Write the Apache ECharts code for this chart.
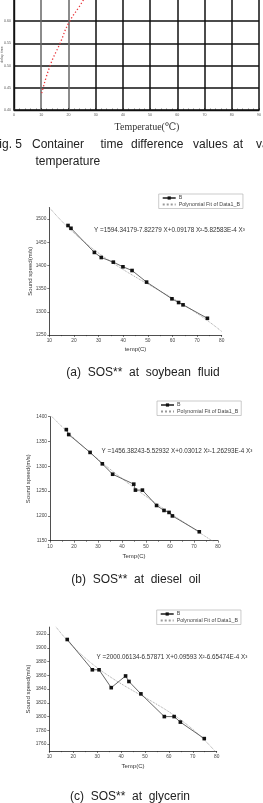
<!DOCTYPE html>
<html><head><meta charset="utf-8">
<script src="https://cdn.jsdelivr.net/npm/echarts@6/dist/echarts.min.js"></script>
<style>html,body{margin:0;padding:0;background:#fff;}#c{width:263px;height:803px;}</style>
</head><body><div id="c"></div>
<script>
// Fig.5 (top, partially visible): container time difference vs temperature
const topTemp = [10.2, 13.2, 16.9, 20.2, 25.4, 26.5];
const topDelay = [0.438, 0.499, 0.550, 0.597, 0.647, 0.665];
const topXTicks = [0,10,20,30,40,50,60,70,80,90];
const topYTicks = [0.40,0.45,0.50,0.55,0.60];

// (a) soybean fluid
const aTemp = [17.6,18.8,28.3,31.1,36.0,39.9,43.6,49.5,59.8,62.5,64.3,74.2];
const aSpeed = [1486,1480,1428,1417,1407,1397,1389,1364,1328,1320,1315,1286];
const aFitTemp = [10,15,20,25,30,35,40,45,50,55,60,65,70,75,80];
const aFit = [1524.7,1495.7,1469.9,1447.0,1426.5,1408.0,1391.0,1375.1,1359.8,1344.8,1329.5,1313.6,1296.6,1278.1,1257.6];
const aYTicks = [1250,1300,1350,1400,1450,1500];

// (b) diesel oil
const bTemp = [16.8,17.8,26.7,31.8,36.1,44.9,45.6,48.5,54.4,57.5,59.6,61.0,72.2];
const bSpeed = [1374,1364,1328,1305,1284,1264,1252,1252,1221,1211,1207,1200,1168];
const bFitTemp = [10,15,20,25,30,35,40,45,50,55,60,65,70,75,80];
const bFit = [1404.0,1379.8,1356.8,1335.0,1314.2,1294.3,1275.3,1257.0,1239.4,1222.4,1205.8,1189.6,1173.6,1157.8,1142.1];
const bYTicks = [1150,1200,1250,1300,1350,1400];

// (c) glycerin
const cTemp = [17.5,28.0,30.8,35.9,41.9,43.3,48.3,58.1,62.2,64.8,74.8];
const cSpeed = [1912,1868,1868,1842,1859,1851,1833,1800,1800,1792,1768];
const cFitTemp = [10,15,20,25,30,35,40,45,50,55,60,65,70,75,80];
const cFit = [1943.2,1920.7,1901.5,1885.2,1871.1,1858.8,1847.8,1837.6,1827.8,1817.7,1807.0,1795.0,1781.4,1765.5,1747.0];
const cYTicks = [1760,1780,1800,1820,1840,1860,1880,1900,1920];

const zip = (a,b) => a.map((v,i)=>[v,b[i]]);
const chart = echarts.init(document.getElementById('c'), null, {renderer:'canvas'});

const lblFont = 'Arial, "Liberation Sans", sans-serif';
function sosX(grid, name, nameGap){
  return {type:'value', gridIndex:grid, min:10, max:80, interval:10,
    name:name, nameLocation:'middle', nameGap:nameGap, nameMoveOverlap:false,
    nameTextStyle:{fontSize:6, color:'#333', fontFamily:lblFont},
    axisLine:{show:true, lineStyle:{color:'#222', width:0.8}},
    axisTick:{show:true, length:2, inside:false, lineStyle:{color:'#222', width:0.6}},
    minorTick:{show:true, splitNumber:2, length:1.2, lineStyle:{color:'#222', width:0.5}},
    axisLabel:{fontSize:4.8, color:'#444', margin:3, fontFamily:lblFont, formatter:v=>String(v)},
    splitLine:{show:false}};
}
function sosY(grid, min, max, ticks, name, nameGap){
  return {type:'value', gridIndex:grid, min:min, max:max,
    name:name, nameLocation:'middle', nameGap:nameGap, nameRotate:90, nameMoveOverlap:false,
    nameTextStyle:{fontSize:6, color:'#333', fontFamily:lblFont},
    axisLine:{show:true, lineStyle:{color:'#222', width:0.8}},
    axisTick:{show:true, length:2, customValues:ticks, lineStyle:{color:'#222', width:0.6}},
    axisLabel:{fontSize:4.8, color:'#444', margin:3, customValues:ticks, fontFamily:lblFont, formatter:v=>String(v)},
    splitLine:{show:false}};
}
function dataSeries(idx, t, v){
  return {name:'B', type:'line', xAxisIndex:idx, yAxisIndex:idx, data:zip(t,v),
    symbol:'rect', symbolSize:3.6, showSymbol:true,
    itemStyle:{color:'#111'}, lineStyle:{color:'#555', width:0.9}, z:3, animation:false};
}
function fitSeries(idx, t, v){
  return {name:'Polynomial Fit of Data1_B', type:'line', xAxisIndex:idx, yAxisIndex:idx, data:zip(t,v),
    symbol:'none', smooth:true, clip:true, itemStyle:{color:'#9a9a9a'},
    lineStyle:{color:'#9a9a9a', width:0.9, type:'dotted'}, z:2, animation:false};
}
function legendAt(left, top){
  return {left:left, top:top, orient:'vertical', itemGap:1.5, itemWidth:13, itemHeight:4,
    padding:[1.5,3,1.5,3], borderColor:'#aaa', borderWidth:0.6, backgroundColor:'#fff',
    selectedMode:false,
    data:[{name:'B'}, {name:'Polynomial Fit of Data1_B', itemStyle:{opacity:0}}],
    textStyle:{fontSize:5.3, color:'#444', fontFamily:lblFont, padding:[0,0,0,-2]}};
}
function txt(x,y,s,size,family,align,color){
  return {type:'text', x:x, y:y, silent:true,
    style:{text:s, fontSize:size, fontFamily:family||lblFont, fill:color||'#222',
      textAlign:align||'left', textVerticalAlign:'middle'}};
}

const option = {
  backgroundColor:'#fff',
  animation:false,
  grid:[
    {left:14, right:4, top:-1, bottom:693, containLabel:false, outerBoundsMode:'none'},
    {left:49.3, right:41.3, top:207.4, bottom:468, outerBoundsMode:'none'},
    {left:50, right:45, top:416.7, bottom:262.3, outerBoundsMode:'none'},
    {left:49.3, right:46.3, top:627.1, bottom:52, outerBoundsMode:'none'}
  ],
  xAxis:[
    {type:'value', gridIndex:0, min:0, max:90, interval:10,
      axisLine:{show:true, lineStyle:{color:'#111', width:1.4}},
      axisTick:{show:true, inside:true, length:2, lineStyle:{color:'#222', width:0.8}},
      minorTick:{show:true, splitNumber:5, length:1.5, lineStyle:{color:'#222', width:0.6}},
      axisLabel:{fontSize:3.6, color:'#555', margin:3, customValues:topXTicks, fontFamily:lblFont},
      splitLine:{show:true, lineStyle:{color:['#111','#666','#666','#111','#111','#111','#111','#111','#111','#111'], width:1.5}}},
    sosX(1,'temp(C)',11),
    sosX(2,'Temp(C)',13),
    sosX(3,'Temp(C)',12.5)
  ],
  yAxis:[
    {type:'value', gridIndex:0, min:0.40, max:0.65, interval:0.05,
      name:'delay time', nameLocation:'middle', nameGap:10, nameRotate:90, nameMoveOverlap:false,
      nameTextStyle:{fontSize:3.6, color:'#555', fontFamily:lblFont},
      axisLine:{show:true, lineStyle:{color:'#111', width:1.4}},
      axisTick:{show:false},
      axisLabel:{fontSize:3.6, color:'#555', margin:3, customValues:topYTicks, fontFamily:lblFont,
        formatter:v=>v.toFixed(2)},
      splitLine:{show:true, lineStyle:{color:'#111', width:1.5}}},
    sosY(1,1250,1525,aYTicks,'Sound speed(m/s)',16),
    sosY(2,1150,1400,bYTicks,'Sound speed(m/s)',19),
    sosY(3,1750,1930,cYTicks,'Sound speed(m/s)',18)
  ],
  legend:[legendAt(158.7,194), legendAt(157,401), legendAt(156.7,610)],
  series:[
    {name:'delay', type:'line', xAxisIndex:0, yAxisIndex:0, data:zip(topTemp,topDelay),
      symbol:'none', smooth:true, clip:true,
      lineStyle:{color:'#e8343a', width:1.3, type:[1.3,2.2]}, z:4, animation:false},
    fitSeries(1,aFitTemp,aFit), dataSeries(1,aTemp,aSpeed),
    fitSeries(2,bFitTemp,bFit), dataSeries(2,bTemp,bSpeed),
    fitSeries(3,cFitTemp,cFit), dataSeries(3,cTemp,cSpeed)
  ],
  graphic:[
    txt(147,127,'Temperatue(\u2103)',10,'"Liberation Serif","DejaVu Serif",serif','center','#333'),
    txt(-8,145,'Fig. 5',12,null,'left','#222'),
    txt(32,145,'Container',12,null,'left','#222'),
    txt(100.5,145,'time',12,null,'left','#222'),
    txt(131,145,'difference',12,null,'left','#222'),
    txt(193,145,'values',12,null,'left','#222'),
    txt(233,145,'at',12,null,'left','#222'),
    txt(256,145,'various',12,null,'left','#222'),
    txt(35.5,162,'temperature',12,null,'left','#222'),
    txt(94,230,'Y =1594.34179-7.82279 X+0.09178 X\u00b2-5.82583E-4 X\u00b3',6.3,null,'left','#333'),
    txt(101.5,451,'Y =1456.38243-5.52932 X+0.03012 X\u00b2-1.26293E-4 X\u00b3',6.3,null,'left','#333'),
    txt(96.5,657.5,'Y =2000.06134-6.57871 X+0.09593 X\u00b2-6.65474E-4 X\u00b3',6.3,null,'left','#333'),
    txt(143,372.5,'(a)  SOS**  at  soybean  fluid',12,null,'center','#222'),
    txt(136,580,'(b)  SOS**  at  diesel  oil',12,null,'center','#222'),
    txt(130,797,'(c)  SOS**  at  glycerin',12,null,'center','#222')
  ]
};
chart.setOption(option);
</script></body></html>
